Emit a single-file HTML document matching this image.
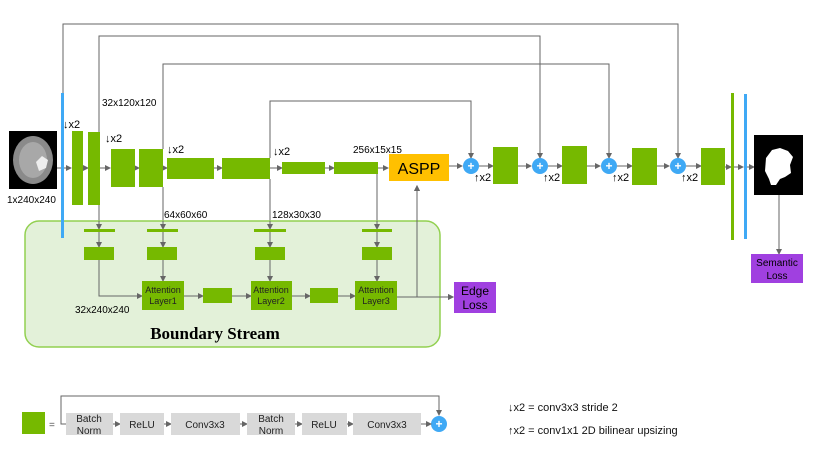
<!DOCTYPE html>
<html><head><meta charset="utf-8"><style>
body{margin:0;background:#fff}
svg{display:block;font-family:"Liberation Sans","DejaVu Sans",sans-serif}
</style></head><body>
<svg width="830" height="467" viewBox="0 0 830 467" xmlns="http://www.w3.org/2000/svg">
<defs><marker id="a" markerWidth="6" markerHeight="6" refX="5" refY="3" orient="auto" markerUnits="userSpaceOnUse"><path d="M0,0 L6,3 L0,6z" fill="#666"/></marker></defs>
<g stroke="#666" stroke-width="1" fill="none">
<!-- skip connections -->
<polyline points="63,93 63,24 678,24 678,158" marker-end="url(#a)"/>
<polyline points="99,132 99,36 540,36 540,158" marker-end="url(#a)"/>
<polyline points="163,149 163,64 609,64 609,158" marker-end="url(#a)"/>
<polyline points="270,158 270,101 471,101 471,158" marker-end="url(#a)"/>
<!-- main row arrows -->
<line x1="57" y1="168" x2="71" y2="168" marker-end="url(#a)"/>
<line x1="83" y1="168" x2="88" y2="168" marker-end="url(#a)"/>
<line x1="100" y1="168" x2="110" y2="168" marker-end="url(#a)"/>
<line x1="135" y1="168" x2="139" y2="168" marker-end="url(#a)"/>
<line x1="163" y1="168" x2="167" y2="168" marker-end="url(#a)"/>
<line x1="214" y1="168" x2="222" y2="168" marker-end="url(#a)"/>
<line x1="270" y1="168" x2="282" y2="168" marker-end="url(#a)"/>
<line x1="325" y1="168" x2="334" y2="168" marker-end="url(#a)"/>
<line x1="378" y1="168" x2="388" y2="168" marker-end="url(#a)"/>
<line x1="449" y1="166" x2="462" y2="166" marker-end="url(#a)"/>
<line x1="479" y1="166" x2="493" y2="166" marker-end="url(#a)"/>
<line x1="518" y1="166" x2="531" y2="166" marker-end="url(#a)"/>
<line x1="548" y1="166" x2="562" y2="166" marker-end="url(#a)"/>
<line x1="587" y1="166" x2="600" y2="166" marker-end="url(#a)"/>
<line x1="617" y1="166" x2="632" y2="166" marker-end="url(#a)"/>
<line x1="657" y1="166" x2="669" y2="166" marker-end="url(#a)"/>
<line x1="686" y1="166" x2="701" y2="166" marker-end="url(#a)"/>
<line x1="725" y1="167" x2="731" y2="167" marker-end="url(#a)"/>
<line x1="734" y1="167" x2="743" y2="167" marker-end="url(#a)"/>
<line x1="747" y1="167" x2="754" y2="167" marker-end="url(#a)"/>
<line x1="779" y1="195" x2="779" y2="254" marker-end="url(#a)"/>
<!-- down to boundary -->
<line x1="99" y1="205" x2="99" y2="229" marker-end="url(#a)"/>
<line x1="163" y1="187" x2="163" y2="229" marker-end="url(#a)"/>
<line x1="270" y1="179" x2="270" y2="229" marker-end="url(#a)"/>
<line x1="377" y1="174" x2="377" y2="229" marker-end="url(#a)"/>
<line x1="99" y1="232" x2="99" y2="247" marker-end="url(#a)"/>
<line x1="163" y1="232" x2="163" y2="247" marker-end="url(#a)"/>
<line x1="270" y1="232" x2="270" y2="247" marker-end="url(#a)"/>
<line x1="377" y1="232" x2="377" y2="247" marker-end="url(#a)"/>
<line x1="163" y1="260" x2="163" y2="281" marker-end="url(#a)"/>
<line x1="270" y1="260" x2="270" y2="281" marker-end="url(#a)"/>
<line x1="377" y1="260" x2="377" y2="281" marker-end="url(#a)"/>
<polyline points="99,260 99,296 142,296" marker-end="url(#a)"/>
<line x1="184" y1="296" x2="203" y2="296" marker-end="url(#a)"/>
<line x1="232" y1="296" x2="251" y2="296" marker-end="url(#a)"/>
<line x1="292" y1="296" x2="310" y2="296" marker-end="url(#a)"/>
<line x1="338" y1="296" x2="355" y2="296" marker-end="url(#a)"/>
<line x1="397" y1="297" x2="453" y2="297" marker-end="url(#a)"/>
<line x1="417" y1="297" x2="417" y2="186" marker-end="url(#a)"/>
</g>
<!-- boundary region -->
<rect x="25" y="221" width="415" height="126" rx="14" fill="#e3f1d9" stroke="#92d050" stroke-width="1.5"/>
<g stroke="#666" fill="none">
<line x1="99" y1="221" x2="99" y2="229" marker-end="url(#a)"/>
<line x1="163" y1="221" x2="163" y2="229" marker-end="url(#a)"/>
<line x1="270" y1="221" x2="270" y2="229" marker-end="url(#a)"/>
<line x1="377" y1="221" x2="377" y2="229" marker-end="url(#a)"/>
<line x1="99" y1="232" x2="99" y2="247" marker-end="url(#a)"/>
<line x1="163" y1="232" x2="163" y2="247" marker-end="url(#a)"/>
<line x1="270" y1="232" x2="270" y2="247" marker-end="url(#a)"/>
<line x1="377" y1="232" x2="377" y2="247" marker-end="url(#a)"/>
<line x1="163" y1="260" x2="163" y2="281" marker-end="url(#a)"/>
<line x1="270" y1="260" x2="270" y2="281" marker-end="url(#a)"/>
<line x1="377" y1="260" x2="377" y2="281" marker-end="url(#a)"/>
<polyline points="99,260 99,296 142,296" marker-end="url(#a)"/>
<line x1="184" y1="296" x2="203" y2="296" marker-end="url(#a)"/>
<line x1="232" y1="296" x2="251" y2="296" marker-end="url(#a)"/>
<line x1="292" y1="296" x2="310" y2="296" marker-end="url(#a)"/>
<line x1="338" y1="296" x2="355" y2="296" marker-end="url(#a)"/>
<line x1="397" y1="297" x2="453" y2="297" marker-end="url(#a)"/>
<line x1="417" y1="297" x2="417" y2="186" marker-end="url(#a)"/>
</g>
<g fill="#76b900">
<rect x="84" y="229" width="31" height="3"/><rect x="147" y="229" width="31" height="3"/><rect x="254" y="229" width="32" height="3"/><rect x="362" y="229" width="30" height="3"/>
<rect x="84" y="247" width="30" height="13"/><rect x="147" y="247" width="30" height="13"/><rect x="255" y="247" width="30" height="13"/><rect x="362" y="247" width="30" height="13"/>
<rect x="142" y="281" width="42" height="29"/><rect x="251" y="281" width="41" height="29"/><rect x="355" y="281" width="42" height="29"/>
<rect x="203" y="288" width="29" height="15"/><rect x="310" y="288" width="28" height="15"/>
<!-- encoder -->
<rect x="72" y="131" width="11" height="74"/><rect x="88" y="132" width="12" height="73"/>
<rect x="111" y="149" width="24" height="38"/><rect x="139" y="149" width="24" height="38"/>
<rect x="167" y="158" width="47" height="21"/><rect x="222" y="158" width="48" height="21"/>
<rect x="282" y="162" width="43" height="12"/><rect x="334" y="162" width="44" height="12"/>
<!-- decoder -->
<rect x="493" y="147" width="25" height="37"/><rect x="562" y="146" width="25" height="38"/>
<rect x="632" y="148" width="25" height="37"/><rect x="701" y="148" width="24" height="37"/>
<rect x="731" y="93" width="3" height="147"/>
<rect x="22" y="412" width="23" height="22"/>
</g>
<rect x="61" y="93" width="3" height="145" fill="#3fa9f5"/>
<rect x="744" y="94" width="3" height="145" fill="#3fa9f5"/>
<!-- brain image -->
<rect x="9" y="131" width="48" height="58" fill="#000"/>
<ellipse cx="33" cy="160" rx="20" ry="24" fill="#8a8a8a"/>
<ellipse cx="33" cy="160" rx="14" ry="18" fill="#a8a8a8"/>
<path d="M36,162 l6,-6 l6,4 l-2,8 l-7,3z" fill="#eee"/>
<!-- output image -->
<rect x="754" y="135" width="49" height="60" fill="#000"/>
<path d="M766,158 l6,-8 l8,-2 l8,3 l5,6 l-3,8 l1,8 l-6,4 l-5,2 l-4,6 l-5,0 l-2,-6 l-4,-8z" fill="#fff"/>
<!-- ASPP -->
<rect x="389" y="154" width="60" height="27" fill="#ffc000"/>
<text x="419" y="174" font-size="16" text-anchor="middle" fill="#000">ASPP</text>
<!-- plus circles -->
<g fill="#3fa9f5"><circle cx="471" cy="166" r="8"/><circle cx="540" cy="166" r="8"/><circle cx="609" cy="166" r="8"/><circle cx="678" cy="166" r="8"/><circle cx="439" cy="424" r="8"/></g>
<g fill="#fff" font-size="12" text-anchor="middle" font-weight="bold"><text x="471" y="170">+</text><text x="540" y="170">+</text><text x="609" y="170">+</text><text x="678" y="170">+</text><text x="439" y="428">+</text></g>
<!-- loss boxes -->
<rect x="454" y="282" width="42" height="31" fill="#a040e0"/>
<text x="475" y="295" font-size="12" text-anchor="middle">Edge</text><text x="475" y="309" font-size="12" text-anchor="middle">Loss</text>
<rect x="751" y="254" width="52" height="29" fill="#a040e0"/>
<text x="777" y="266" font-size="10" text-anchor="middle">Semantic</text><text x="777" y="279" font-size="10" text-anchor="middle">Loss</text>
<!-- attention labels -->
<g font-size="9" text-anchor="middle" fill="#222">
<text x="163" y="293">Attention</text><text x="163" y="304">Layer1</text>
<text x="271" y="293">Attention</text><text x="271" y="304">Layer2</text>
<text x="376" y="293">Attention</text><text x="376" y="304">Layer3</text>
</g>
<!-- labels -->
<g font-size="10" fill="#000">
<text x="102" y="106">32x120x120</text>
<text x="7" y="203">1x240x240</text>
<text x="164" y="218">64x60x60</text>
<text x="272" y="218">128x30x30</text>
<text x="353" y="153">256x15x15</text>
<text x="75" y="313">32x240x240</text>
<text x="63" y="128" font-size="11">↓x2</text>
<text x="105" y="142" font-size="11">↓x2</text>
<text x="167" y="153" font-size="11">↓x2</text>
<text x="273" y="155" font-size="11">↓x2</text>
<text x="474" y="181" font-size="11">↑x2</text>
<text x="543" y="181" font-size="11">↑x2</text>
<text x="612" y="181" font-size="11">↑x2</text>
<text x="681" y="181" font-size="11">↑x2</text>
</g>
<text x="215" y="339" font-family="Liberation Serif,serif" font-weight="bold" font-size="17" text-anchor="middle">Boundary Stream</text>
<!-- legend -->
<text x="49" y="428" font-size="10" fill="#555">=</text>
<g stroke="#666" fill="none">
<polyline points="66,424 61,424 61,396 439,396 439,415" marker-end="url(#a)"/>
<line x1="113" y1="424" x2="120" y2="424" marker-end="url(#a)"/>
<line x1="164" y1="424" x2="171" y2="424" marker-end="url(#a)"/>
<line x1="240" y1="424" x2="247" y2="424" marker-end="url(#a)"/>
<line x1="295" y1="424" x2="302" y2="424" marker-end="url(#a)"/>
<line x1="347" y1="424" x2="353" y2="424" marker-end="url(#a)"/>
<line x1="421" y1="424" x2="431" y2="424" marker-end="url(#a)"/>
</g>
<g fill="#d9d9d9">
<rect x="66" y="413" width="47" height="22"/><rect x="120" y="413" width="44" height="22"/><rect x="171" y="413" width="69" height="22"/>
<rect x="247" y="413" width="48" height="22"/><rect x="302" y="413" width="45" height="22"/><rect x="353" y="413" width="68" height="22"/>
</g>
<g font-size="10" text-anchor="middle" fill="#222">
<text x="89" y="422">Batch</text><text x="89" y="434">Norm</text>
<text x="142" y="428">ReLU</text><text x="205" y="428">Conv3x3</text>
<text x="271" y="422">Batch</text><text x="271" y="434">Norm</text>
<text x="324" y="428">ReLU</text><text x="387" y="428">Conv3x3</text>
</g>
<text x="508" y="411" font-size="11" fill="#111">↓x2 = conv3x3 stride 2</text>
<text x="508" y="434" font-size="11" fill="#111">↑x2 = conv1x1 2D bilinear upsizing</text>
</svg>
</body></html>
